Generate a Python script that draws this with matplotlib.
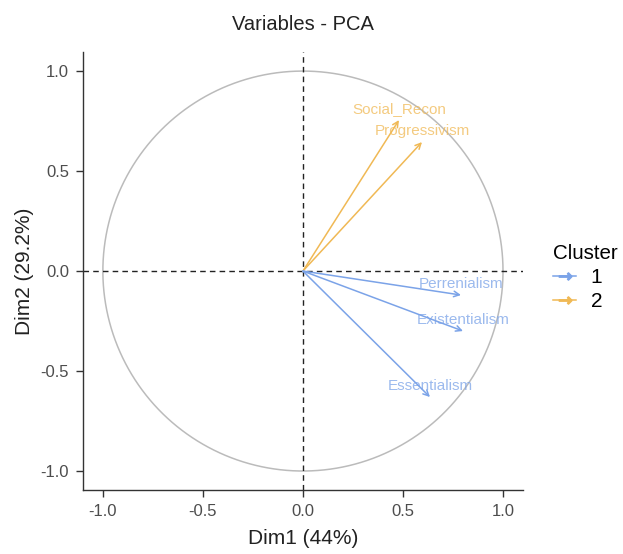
import numpy as np
import matplotlib
matplotlib.use("Agg")
import matplotlib.pyplot as plot
from matplotlib.lines import Line2D

plot.rcParams['font.family'] = ['Liberation Sans', 'DejaVu Sans']

variables = ['Social_Recon', 'Progressivism', 'Perrenialism', 'Existentialism', 'Essentialism']
dim1 = [0.48, 0.595, 0.79, 0.80, 0.635]
dim2 = [0.755, 0.645, -0.12, -0.30, -0.63]
cluster = ['2', '2', '1', '1', '1']
couleurs = {'1': '#7BA3E8', '2': '#F0B955'}

fig = plot.figure(figsize=(6.23, 5.54), dpi=100)
ax = fig.add_axes([0.133, 0.1155, 0.7065, 0.7905])

theta = np.linspace(0, 2 * np.pi, 400)
ax.plot(np.cos(theta), np.sin(theta), color='#BBBBBB', lw=1.1, zorder=1)
ax.axhline(0, color='#222222', ls=(0, (4, 3)), lw=1.0, zorder=2)
ax.axvline(0, color='#222222', ls=(0, (4, 3)), lw=1.0, zorder=2)

for nom, x, y, c in zip(variables, dim1, dim2, cluster):
    couleur = couleurs[c]
    ax.annotate('', xy=(x, y), xytext=(0, 0),
                arrowprops=dict(arrowstyle='->', color=couleur, lw=1.1,
                                shrinkA=0, shrinkB=0, mutation_scale=10),
                zorder=3)
    ax.text(x, y + 0.057, nom, color=couleur, alpha=0.75, fontsize=11,
            ha='center', va='center', zorder=4)

ax.set_xlim(-1.1, 1.1)
ax.set_ylim(-1.095, 1.095)
ax.set_xticks([-1.0, -0.5, 0.0, 0.5, 1.0])
ax.set_yticks([-1.0, -0.5, 0.0, 0.5, 1.0])
ax.set_xticklabels(['-1.0', '-0.5', '0.0', '0.5', '1.0'])
ax.set_yticklabels(['-1.0', '-0.5', '0.0', '0.5', '1.0'])
for side in ['top', 'right']:
    ax.spines[side].set_visible(False)
for side in ['left', 'bottom']:
    ax.spines[side].set_color('#333333')
    ax.spines[side].set_linewidth(1.0)
ax.tick_params(direction='out', length=5, width=1.0, color='#333333',
               labelcolor='#4D4D4D', labelsize=12, pad=5)
ax.set_xlabel('Dim1 (44%)', fontsize=15, color='#222222', labelpad=7)
ax.set_ylabel('Dim2 (29.2%)', fontsize=15, color='#222222', labelpad=5)
ax.set_title('Variables - PCA', fontsize=14.5, color='#222222', pad=16)

handles = [Line2D([0], [0], color=couleurs[k], lw=1.1, marker=r'$\rightarrow$',
                  markersize=9) for k in ['1', '2']]
leg = fig.legend(handles, ['1', '2'], title='Cluster', loc='upper left',
                 bbox_to_anchor=(0.858, 0.594), frameon=False, fontsize=15,
                 title_fontsize=14.8, handlelength=1.1, handletextpad=0.7,
                 labelspacing=0.25, alignment='left')

plot.savefig('out.png', dpi=100)
